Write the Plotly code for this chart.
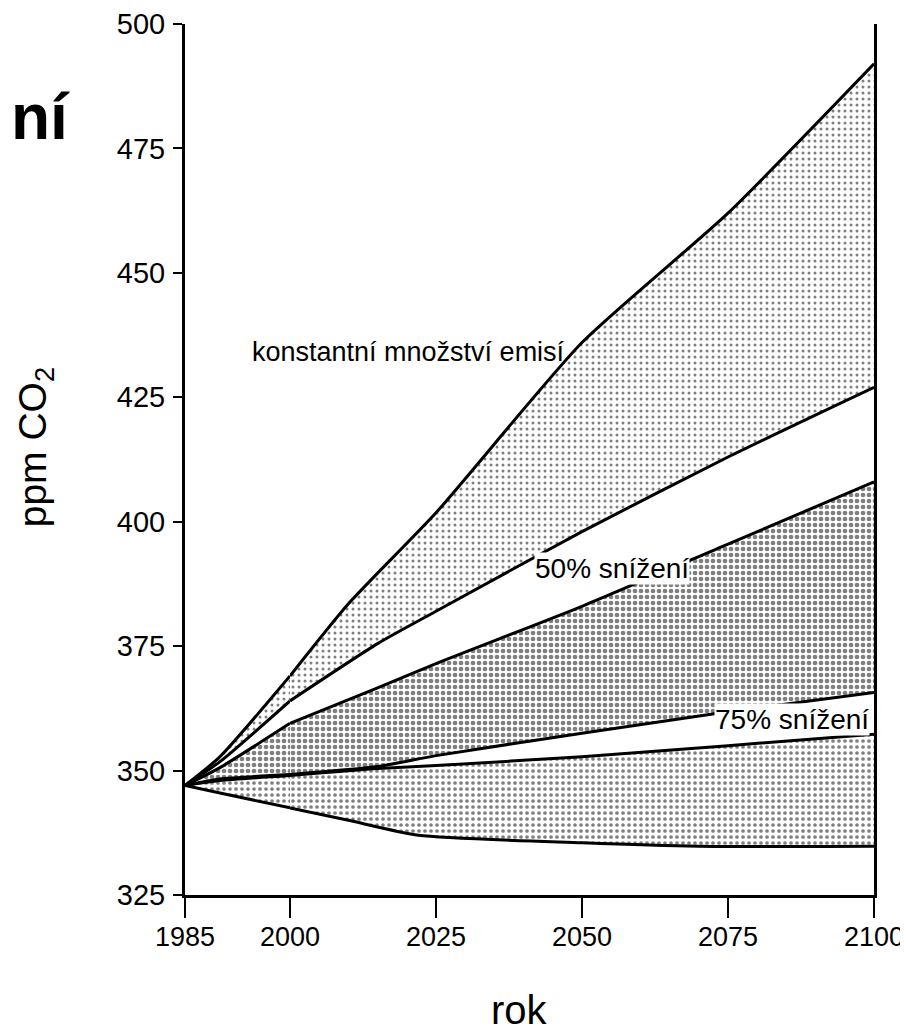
import plotly.graph_objects as go

# ---- data (the printed x axis is stretched between 1985 and 2000) ----
years_const = [1985, 1990, 2000, 2010, 2025, 2050, 2075, 2100]
ppm_const = [347, 352.8, 369, 383.5, 401.8, 436, 462, 492]     # konstantní množství emisí (upper)

years_mid = [1985, 1990, 2000, 2015, 2025, 2050, 2075, 2100]
ppm_const_low = [347, 351.8, 364, 375.5, 382, 398, 413, 427]   # lower edge of constant band
ppm_50_high = [347, 350.6, 359.5, 366.6, 371.5, 383, 395.5, 408]  # 50% snížení upper
ppm_50_low = [347, 348.3, 349.2, 350.8, 353, 357.5, 361.8, 365.7]  # 50% snížení lower
ppm_75_high = [347, 348.0, 349.0, 350.4, 351, 352.8, 355, 357.3]   # 75% snížení upper

years_75low = [1985, 1990, 2000, 2010, 2022, 2050, 2070, 2100]
ppm_75_low = [347, 345.5, 342.5, 340, 337, 335.5, 334.8, 334.8]    # 75% snížení lower

x_ticks = [1985, 2000, 2025, 2050, 2075, 2100]
y_ticks = [325, 350, 375, 400, 425, 450, 475, 500]

BREAK = 2000  # the printed axis uses a wider scale for 1985-2000 than for 2000-2100

FONT = "Liberation Sans, Arial, Helvetica, sans-serif"
LINE = dict(color="black", width=3, shape="spline", smoothing=0.6)


def band_pattern(solidity):
    return dict(shape=".", fgcolor="black", bgcolor="white", size=6, solidity=solidity)


def split(xs, ys):
    a = [(x, y) for x, y in zip(xs, ys) if x <= BREAK]
    b = [(x, y) for x, y in zip(xs, ys) if x >= BREAK]
    return ([p[0] for p in a], [p[1] for p in a]), ([p[0] for p in b], [p[1] for p in b])


fig = go.Figure()


def add_band(xl, yl, xu, yu, solidity):
    (xla, yla), (xlb, ylb) = split(xl, yl)
    (xua, yua), (xub, yub) = split(xu, yu)
    for (lx, ly, ux, uy, xa, ya) in [(xla, yla, xua, yua, "x", "y"),
                                     (xlb, ylb, xub, yub, "x2", "y2")]:
        fig.add_trace(go.Scatter(x=lx, y=ly, mode="lines", line=LINE, xaxis=xa, yaxis=ya,
                                 hoverinfo="skip", showlegend=False))
        fig.add_trace(go.Scatter(x=ux, y=uy, mode="lines", line=LINE, xaxis=xa, yaxis=ya,
                                 fill="tonexty", fillcolor="white",
                                 fillpattern=band_pattern(solidity),
                                 hoverinfo="skip", showlegend=False))


add_band(years_75low, ppm_75_low, years_mid, ppm_75_high, 0.3)      # 75% snížení
add_band(years_mid, ppm_50_low, years_mid, ppm_50_high, 0.48)        # 50% snížení
add_band(years_mid, ppm_const_low, years_const, ppm_const, 0.2)      # konstantní emise

SPLIT = 105 / 689
tick_common = dict(showline=True, linecolor="black", linewidth=3, ticks="outside",
                   ticklen=20, tickwidth=2, tickcolor="black", showgrid=False,
                   zeroline=False, ticklabelstandoff=-4, automargin=False,
                   tickfont=dict(family=FONT, size=27, color="black"))
x1_ticks = [t for t in x_ticks if t < BREAK]
x2_ticks = [t for t in x_ticks if t >= BREAK]
fig.update_layout(
    xaxis=dict(range=[1985, BREAK], domain=[0, SPLIT], anchor="y",
               tickvals=x1_ticks, ticktext=[str(v) for v in x1_ticks], **tick_common),
    xaxis2=dict(range=[BREAK, 2100], domain=[SPLIT, 1], anchor="y2",
                tickvals=x2_ticks, ticktext=[str(v) for v in x2_ticks], **tick_common),
    yaxis=dict(range=[325, 500], tickvals=y_ticks, anchor="x", side="left",
               showline=True, linecolor="black", linewidth=3,
               ticks="outside", ticklen=9, tickwidth=2, tickcolor="black",
               ticklabelstandoff=2, automargin=False,
               showgrid=False, zeroline=False,
               tickfont=dict(family=FONT, size=29, color="black")),
    yaxis2=dict(range=[325, 500], matches="y", anchor="x2", side="right",
                showline=True, linecolor="black", linewidth=3, ticks="",
                showticklabels=False, showgrid=False, zeroline=False, automargin=False),
)

annos = [
    dict(x=2047.4, y=434.1, xref="x2", yref="y2", text="konstantní množství emisí",
         showarrow=False, xanchor="right", yanchor="middle",
         font=dict(family=FONT, size=27, color="black")),
    dict(x=2055.1, y=390.7, xref="x2", yref="y2", text="50% snížení",
         showarrow=False, xanchor="center", yanchor="middle", bgcolor="white",
         borderpad=0, font=dict(family=FONT, size=28, color="black")),
    dict(x=2086.0, y=360.2, xref="x2", yref="y2", text="75% snížení",
         showarrow=False, xanchor="center", yanchor="middle", bgcolor="white",
         borderpad=0, font=dict(family=FONT, size=28, color="black")),
    dict(x=-0.2177, y=0.514, xref="paper", yref="paper", text="ppm CO<sub>2</sub>",
         showarrow=False, textangle=-90, xanchor="center", yanchor="middle",
         font=dict(family=FONT, size=39, color="black")),
    dict(x=0.486, y=-0.132, xref="paper", yref="paper", text="rok",
         showarrow=False, xanchor="center", yanchor="middle",
         font=dict(family=FONT, size=40, color="black")),
    dict(x=-0.2554, y=1.0 - (117 - 24) / 871, xref="paper", yref="paper", text="<b>ní</b>",
         showarrow=False, xanchor="left", yanchor="middle",
         font=dict(family=FONT, size=64, color="black")),
]
# the page body has an 8 px margin, so the figure is 8 px smaller in each direction
fig.update_layout(annotations=annos, width=900, height=1028,
                  margin=dict(l=177, r=34, t=16, b=141),
                  paper_bgcolor="white", plot_bgcolor="white", showlegend=False)

fig.write_html("out.html")
